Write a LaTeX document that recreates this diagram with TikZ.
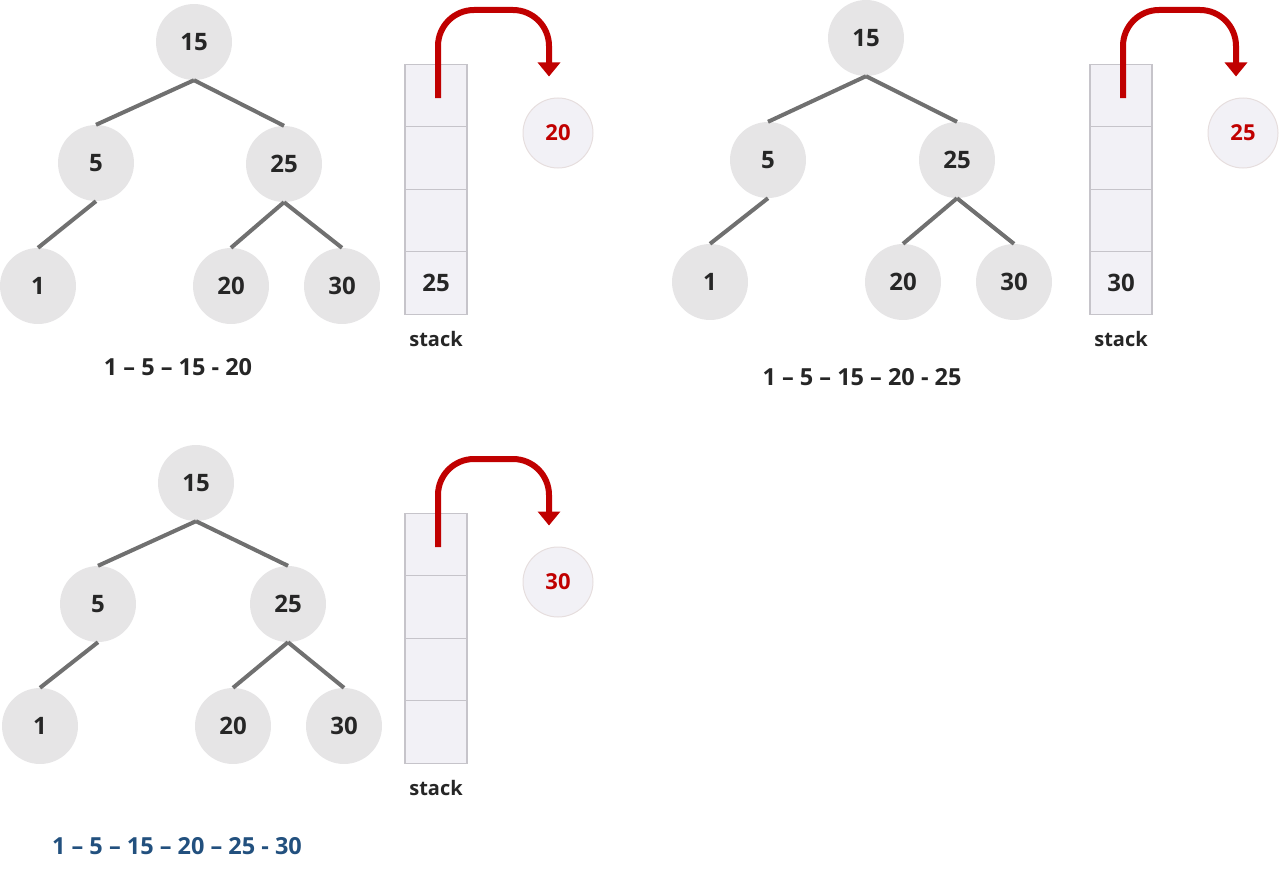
\documentclass[tikz,border=0pt]{standalone}
\usepackage{fontspec}
\setmainfont{Open Sans}
\usetikzlibrary{positioning,calc,arrows.meta}

\definecolor{nodegray}{HTML}{E6E5E6}
\definecolor{edgegray}{HTML}{707070}
\definecolor{cellfill}{HTML}{F2F1F6}
\definecolor{celldraw}{HTML}{C6C4CA}
\definecolor{popdraw}{HTML}{E6DEDE}
\definecolor{popred}{HTML}{C00000}
\definecolor{darktext}{HTML}{262626}
\definecolor{pathblue}{HTML}{22507E}

\begin{document}
\begin{tikzpicture}[
    x=1pt, y=-1pt,
    treenode/.style={circle, fill=nodegray, minimum size=76pt, inner sep=0pt, text=darktext, font=\fontsize{24}{28}\selectfont\bfseries},
    treeline/.style={line width=4pt, draw=edgegray},
    cell/.style={rectangle, draw=celldraw, fill=cellfill, line width=1.2pt, minimum width=62pt, minimum height=62.5pt, inner sep=0pt, outer sep=0pt, text=darktext, font=\fontsize{24}{28}\selectfont\bfseries},
    popnode/.style={circle, fill=cellfill, draw=popdraw, line width=1pt, minimum size=70pt, inner sep=0pt, text=popred, font=\fontsize{22}{26}\selectfont\bfseries},
    poparrow/.style={line width=6pt, draw=popred, rounded corners=36pt, -{Triangle[width=22pt,length=14pt]}},
    stacklabel/.style={text=darktext, font=\fontsize{20}{24}\selectfont\bfseries},
    order/.style={text=darktext, font=\fontsize{23.5}{28}\selectfont\bfseries}
]
\useasboundingbox (0,0) rectangle (1280,875);

% Panel 1: pop 20
\node[treenode] (a15) at (194,42) {15};
\node[treenode] (a5) at (96,163) {5};
\node[treenode] (a25) at (284,164) {25};
\node[treenode] (a1) at (38,286) {1};
\node[treenode] (a20) at (231,286) {20};
\node[treenode] (a30) at (342,286) {30};

\node[cell] (as1) at (436,95.5) {};
\node[cell, below=0pt of as1] (as2) {};
\node[cell, below=0pt of as2] (as3) {};
\node[cell, below=0pt of as3] (as4) {25};
\node[stacklabel, below=14pt of as4] (alabel) {stack};

\node[popnode] (apop) at (558,133) {20};
\node[order] (aorder) at (178,367) {1 – 5 – 15 - 20};

\draw[treeline] (a15.south) -- (a5.north);
\draw[treeline] (a15.south) -- (a25.north);
\draw[treeline] (a5.south) -- (a1.north);
\draw[treeline] (a25.south) -- (a20.north);
\draw[treeline] (a25.south) -- (a30.north);
\draw[poparrow] ([xshift=2pt,yshift=-2.5pt]as1.center) -- ++(0,-88) -| ($(apop.north)+(-9,-21)$);

% Panel 2: pop 25
\node[treenode] (b15) at (866,38) {15};
\node[treenode] (b5) at (768,160) {5};
\node[treenode] (b25) at (957,160) {25};
\node[treenode] (b1) at (710,282) {1};
\node[treenode] (b20) at (903,282) {20};
\node[treenode] (b30) at (1014,282) {30};

\node[cell] (bs1) at (1121,95.5) {};
\node[cell, below=0pt of bs1] (bs2) {};
\node[cell, below=0pt of bs2] (bs3) {};
\node[cell, below=0pt of bs3] (bs4) {30};
\node[stacklabel, below=14pt of bs4] (blabel) {stack};

\node[popnode] (bpop) at (1243,133) {25};
\node[order] (border) at (862,377) {1 – 5 – 15 – 20 - 25};

\draw[treeline] (b15.south) -- (b5.north);
\draw[treeline] (b15.south) -- (b25.north);
\draw[treeline] (b5.south) -- (b1.north);
\draw[treeline] (b25.south) -- (b20.north);
\draw[treeline] (b25.south) -- (b30.north);
\draw[poparrow] ([xshift=2pt,yshift=-2.5pt]bs1.center) -- ++(0,-88) -| ($(bpop.north)+(-7,-21)$);

% Panel 3: pop 30
\node[treenode] (c15) at (196,483) {15};
\node[treenode] (c5) at (98,604) {5};
\node[treenode] (c25) at (288,604) {25};
\node[treenode] (c1) at (40,726) {1};
\node[treenode] (c20) at (233,726) {20};
\node[treenode] (c30) at (344,726) {30};

\node[cell] (cs1) at (436,544.5) {};
\node[cell, below=0pt of cs1] (cs2) {};
\node[cell, below=0pt of cs2] (cs3) {};
\node[cell, below=0pt of cs3] (cs4) {};
\node[stacklabel, below=14pt of cs4] (clabel) {stack};

\node[popnode] (cpop) at (558,582) {30};
\node[order, text=pathblue] (corder) at (177,846) {1 – 5 – 15 – 20 – 25 - 30};

\draw[treeline] (c15.south) -- (c5.north);
\draw[treeline] (c15.south) -- (c25.north);
\draw[treeline] (c5.south) -- (c1.north);
\draw[treeline] (c25.south) -- (c20.north);
\draw[treeline] (c25.south) -- (c30.north);
\draw[poparrow] ([xshift=2pt,yshift=-2.5pt]cs1.center) -- ++(0,-88) -| ($(cpop.north)+(-9,-21)$);

\end{tikzpicture}
\end{document}
